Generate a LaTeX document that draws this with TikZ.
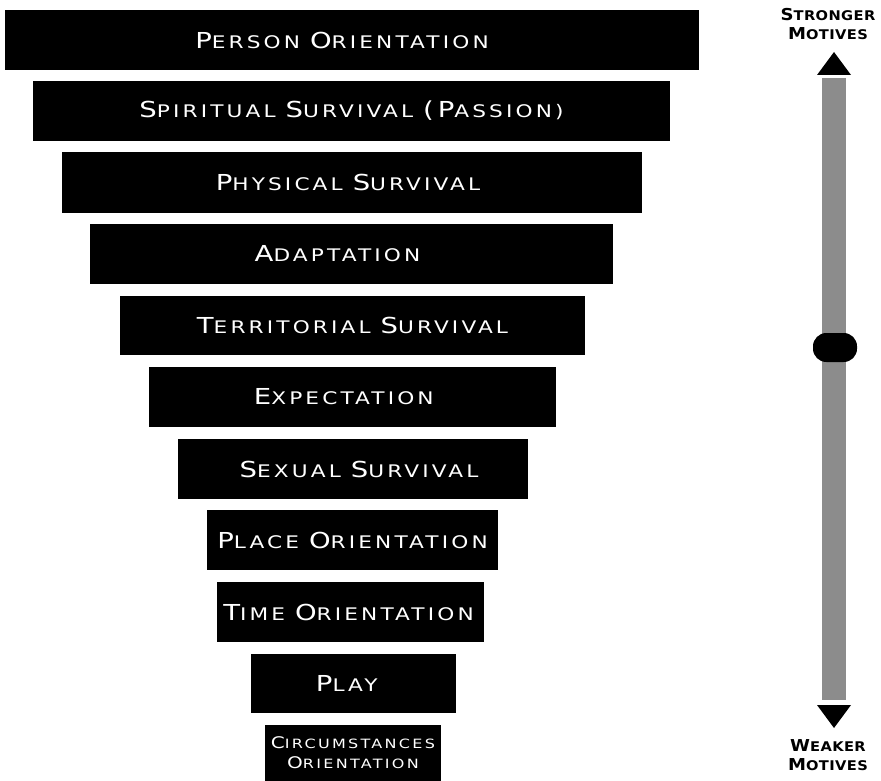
\documentclass[tikz,border=0pt]{standalone}
\usepackage{fontspec}
\setmainfont{DejaVu Sans}[FakeStretch=1.25,LetterSpace=18]
\newfontfamily\sidefont{DejaVu Sans}[FakeStretch=1.1,LetterSpace=3,UprightFont=*-Bold]
% fake small caps: first letter big, rest small
\newcommand\scw[2]{{\fontsize{16.5}{18}\selectfont #1}{\fontsize{13}{18}\selectfont #2}}
\newcommand\scs[2]{{\fontsize{12.3}{14}\selectfont #1}{\fontsize{10}{14}\selectfont #2}}
\newcommand\sct[2]{{\fontsize{12}{15}\selectfont #1}{\fontsize{9.6}{15}\selectfont #2}}

\begin{document}
\begin{tikzpicture}[x=0.75pt,y=-0.75pt]
\tikzset{band/.style 2 args={fill=black,text=white,inner sep=0pt,outer sep=0pt,
  minimum width=#1*0.75pt,minimum height=#2*0.75pt,font=\fontsize{13}{18}\selectfont}}
\tikzset{knob/.style={fill=black,rounded corners=10pt,inner sep=0pt,
  minimum width=33pt,minimum height=21.75pt}}
\tikzset{side/.style={align=center,inner sep=0pt,font=\sidefont\fontsize{10}{14.25}\selectfont}}
\useasboundingbox (0,0) rectangle (881,781);
% the funnel (kerns nudge the texts off centre as in the original)
\node (person) at (352,40) [band={694}{60}] {\scw{P}{ERSON} \scw{O}{RIENTATION}\kern15pt};
\node (spirit) at (351.5,111) [band={637}{60}] {\scw{S}{PIRITUAL} \scw{S}{URVIVAL} \scw{(P}{ASSION)}};
\node (physic) at (352,182.5) [band={580}{61}] {\scw{P}{HYSICAL} \scw{S}{URVIVAL}\kern6pt};
\node (adapt) at (351.5,254) [band={523}{60}] {\scw{A}{DAPTATION}\kern21pt};
\node (territ) at (352.5,325.5) [band={465}{59}] {\scw{T}{ERRITORIAL} \scw{S}{URVIVAL}};
\node (expect) at (352.5,397) [band={407}{60}] {\scw{E}{XPECTATION}\kern13pt};
\node (sexual) at (353,469) [band={350}{60}] {\kern9pt\scw{S}{EXUAL} \scw{S}{URVIVAL}};
\node (place) at (352.5,540) [band={291}{60}] {\scw{P}{LACE} \scw{O}{RIENTATION}};
\node (time) at (350.5,612) [band={267}{60}] {\scw{T}{IME} \scw{O}{RIENTATION}\kern3pt};
\node (play) at (353.5,683.5) [band={205}{59}] {\scw{P}{LAY}\kern10pt};
\node (circum) at (353,753) [band={176}{56},align=center,font=\fontsize{9.6}{15}\selectfont]
  {\sct{C}{IRCUMSTANCES}\\\sct{O}{RIENTATION}};
% the scale
\node (strong) at (828,24.5) [side] {\scs{S}{TRONGER}\\\scs{M}{OTIVES}};
\node (weak) at (828,755.5) [side] {\scs{W}{EAKER}\\\scs{M}{OTIVES}};
\coordinate (bartop) at (834,78);
\coordinate (barbot) at (834,700);
\draw [black!45,line width=18pt] (bartop) -- (barbot);
\fill [black] (817,75) -- (834,52) -- (851,75) -- cycle;
\fill [black] (817,705) -- (834,728) -- (851,705) -- cycle;
\node (middle) at (835,347.5) [knob] {};
\end{tikzpicture}
\end{document}
